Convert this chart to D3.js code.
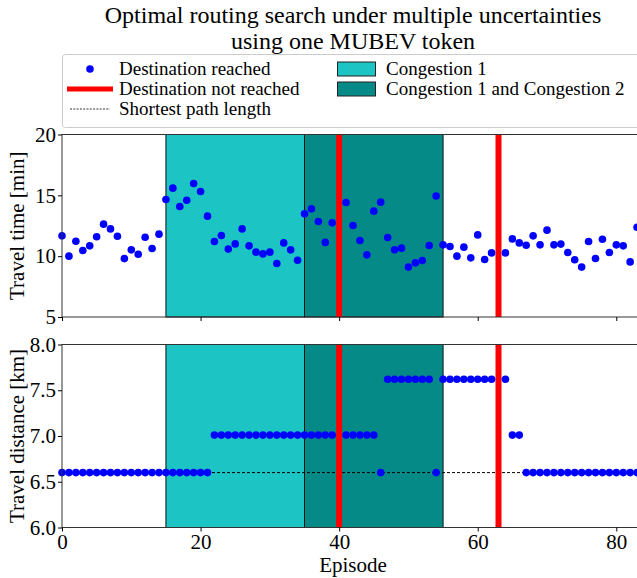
<!DOCTYPE html>
<html>
<head>
<meta charset="utf-8">
<script src="https://cdn.jsdelivr.net/npm/d3@7"></script>
<style>
  body { margin: 0; background: #fff; }
  svg { display: block; font-family: "Liberation Serif", "DejaVu Serif", serif; }
</style>
</head>
<body>
<div id="chart"></div>
<script>
// travel time per episode (null = destination not reached)
var travelTime = [11.67, 10.0, 11.23, 10.47, 10.85, 11.59, 12.63, 12.24, 11.64, 9.8,
    10.52, 10.16, 11.56, 10.63, 11.81, 14.66, 15.59, 14.08, 14.6, 15.97,
    15.31, 13.29, 11.2, 11.7, 10.58, 11.01, 12.24, 10.85, 10.33, 10.19,
    10.33, 9.4, 11.09, 10.52, 9.67, 13.48, 13.89, 12.85, 11.13, 12.74,
    null, 14.41, 12.52, 11.29, 10.11, 13.7, 14.44, 11.54, 10.52, 10.66,
    9.1, 9.45, 9.65, 10.88, 14.95, 10.93, 10.8, 10.0, 10.74, 9.86,
    11.75, 9.73, 10.27, null, 10.27, 11.42, 11.09, 10.9, 11.67, 10.93,
    12.14, 10.93, 10.99, 10.3, 9.7, 9.1, 11.2, 9.81, 11.39, 10.3,
    10.93, 10.85, 9.53, 12.38];

// travel distance per episode
var travelDist = [6.6, 6.6, 6.6, 6.6, 6.6, 6.6, 6.6, 6.6, 6.6, 6.6,
    6.6, 6.6, 6.6, 6.6, 6.6, 6.6, 6.6, 6.6, 6.6, 6.6,
    6.6, 6.6, 7.01, 7.01, 7.01, 7.01, 7.01, 7.01, 7.01, 7.01,
    7.01, 7.01, 7.01, 7.01, 7.01, 7.01, 7.01, 7.01, 7.01, 7.01,
    null, 7.01, 7.01, 7.01, 7.01, 7.01, 6.6, 7.62, 7.62, 7.62,
    7.62, 7.62, 7.62, 7.62, 6.6, 7.62, 7.62, 7.62, 7.62, 7.62,
    7.62, 7.62, 7.62, null, 7.62, 7.01, 7.01, 6.6, 6.6, 6.6,
    6.6, 6.6, 6.6, 6.6, 6.6, 6.6, 6.6, 6.6, 6.6, 6.6,
    6.6, 6.6, 6.6, 6.6];

var notReached = [40, 63];
var shortestPath = 6.6;
var congestion1 = [15, 35];
var congestion12 = [35, 55];

var xTicks = [0, 20, 40, 60, 80];
var timeTicks = [5, 10, 15, 20];
var distTicks = [6.0, 6.5, 7.0, 7.5, 8.0];

var width = 637, height = 578;
var left = 62, right = 644;

var svg = d3.select('#chart')
    .append('svg')
    .attr('width', width)
    .attr('height', height);

var x = d3.scaleLinear().domain([0, 84]).range([left, right]);

var colC1 = '#1cc4c4';
var colC12 = '#058a87';

// title
svg.append('text')
    .attr('x', 353).attr('y', 22.5)
    .attr('text-anchor', 'middle')
    .style('font-size', '24px')
    .text('Optimal routing search under multiple uncertainties');
svg.append('text')
    .attr('x', 353).attr('y', 49)
    .attr('text-anchor', 'middle')
    .style('font-size', '24px')
    .text('using one MUBEV token');

// draws one panel
function panel(top, bottom, domain, ticks, values, fmt, label, showX) {
    var y = d3.scaleLinear().domain(domain).range([bottom, top]);
    var g = svg.append('g');

    // congestion spans
    g.append('rect')
        .attr('x', x(congestion1[0])).attr('y', top)
        .attr('width', x(congestion1[1]) - x(congestion1[0]))
        .attr('height', bottom - top)
        .attr('fill', colC1).attr('stroke', '#111').attr('stroke-width', 1);
    g.append('rect')
        .attr('x', x(congestion12[0])).attr('y', top)
        .attr('width', x(congestion12[1]) - x(congestion12[0]))
        .attr('height', bottom - top)
        .attr('fill', colC12).attr('stroke', '#111').attr('stroke-width', 1);

    // shortest path only on the distance panel
    if (showX) {
        g.append('line')
            .attr('x1', x(0)).attr('x2', x(84))
            .attr('y1', y(shortestPath)).attr('y2', y(shortestPath))
            .attr('stroke', '#000').attr('stroke-width', 1)
            .attr('stroke-dasharray', '3,2');
    }

    // not reached
    g.selectAll('line.nr')
        .data(notReached)
        .enter()
        .append('line')
        .attr('class', 'nr')
        .attr('x1', function(d) { return x(d); })
        .attr('x2', function(d) { return x(d); })
        .attr('y1', top).attr('y2', bottom)
        .attr('stroke', '#ff0000').attr('stroke-width', 6);

    // points
    g.selectAll('circle')
        .data(values.map(function(v, i) { return { ep: i, v: v }; })
            .filter(function(d) { return d.v !== null; }))
        .enter()
        .append('circle')
        .attr('cx', function(d) { return x(d.ep); })
        .attr('cy', function(d) { return y(d.v); })
        .attr('r', 3.8)
        .attr('fill', '#0000ff');

    // frame
    g.append('rect')
        .attr('x', left).attr('y', top)
        .attr('width', right - left).attr('height', bottom - top)
        .attr('fill', 'none').attr('stroke', '#333').attr('stroke-width', 1);

    // y axis
    var ya = g.append('g')
        .attr('transform', 'translate(' + left + ',0)')
        .call(d3.axisLeft(y).tickValues(ticks).tickFormat(fmt).tickSize(4).tickPadding(2));
    ya.select('.domain').remove();
    ya.selectAll('text').style('font-size', '21px').attr('fill', '#000')
        .attr('font-family', '"Liberation Serif", serif');

    // x axis
    var xa = g.append('g')
        .attr('transform', 'translate(0,' + bottom + ')')
        .call(d3.axisBottom(x).tickValues(xTicks).tickSize(4).tickPadding(3)
            .tickFormat(showX ? d3.format('d') : ''));
    xa.select('.domain').remove();
    xa.selectAll('text').style('font-size', '21px').attr('fill', '#000')
        .attr('font-family', '"Liberation Serif", serif');

    svg.append('text')
        .attr('transform', 'translate(24,' + ((top + bottom) / 2) + ') rotate(-90)')
        .attr('text-anchor', 'middle')
        .style('font-size', '21px')
        .text(label);
}

panel(134.5, 317, [5, 20], timeTicks, travelTime, d3.format('d'), 'Travel time [min]', false);
panel(344.5, 527.5, [6, 8], distTicks, travelDist, d3.format('.1f'), 'Travel distance [km]', true);

svg.append('text')
    .attr('x', 353).attr('y', 572)
    .attr('text-anchor', 'middle')
    .style('font-size', '21px')
    .text('Episode');

// legend
var lg = svg.append('g');
lg.append('rect')
    .attr('x', 62.5).attr('y', 54.5)
    .attr('width', 581).attr('height', 73)
    .attr('rx', 3)
    .attr('fill', '#fff').attr('stroke', '#ccc');

var legendLeft = [
    { label: 'Destination reached', kind: 'dot' },
    { label: 'Destination not reached', kind: 'red' },
    { label: 'Shortest path length', kind: 'dash' }
];
var legendRight = [
    { label: 'Congestion 1', color: colC1 },
    { label: 'Congestion 1 and Congestion 2', color: colC12 }
];

var rowGap = 20;

legendLeft.forEach(function(d, i) {
    var yy = 69 + i * rowGap;
    if (d.kind === 'dot') {
        lg.append('circle').attr('cx', 90).attr('cy', yy).attr('r', 3.8).attr('fill', '#0000ff');
    } else if (d.kind === 'red') {
        lg.append('line').attr('x1', 67).attr('x2', 113).attr('y1', yy).attr('y2', yy)
            .attr('stroke', '#ff0000').attr('stroke-width', 5);
    } else {
        lg.append('line').attr('x1', 70).attr('x2', 110).attr('y1', yy).attr('y2', yy)
            .attr('stroke', '#000').attr('stroke-width', 0.8).attr('stroke-dasharray', '2,1.3');
    }
    lg.append('text').attr('x', 119).attr('y', yy + 6)
        .style('font-size', '19px').text(d.label);
});

legendRight.forEach(function(d, i) {
    var yy = 69 + i * rowGap;
    lg.append('rect').attr('x', 337.5).attr('y', yy - 7).attr('width', 38).attr('height', 14)
        .attr('fill', d.color).attr('stroke', '#222').attr('stroke-width', 1);
    lg.append('text').attr('x', 386).attr('y', yy + 6)
        .style('font-size', '19px').text(d.label);
});
</script>
</body>
</html>
